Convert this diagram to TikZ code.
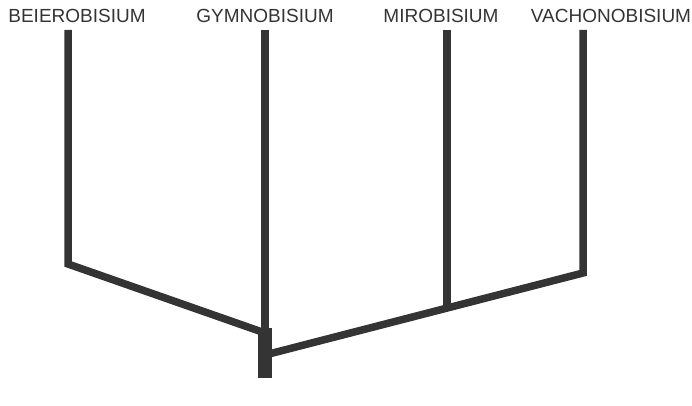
\documentclass[tikz,border=0pt]{standalone}
\usepackage{fontspec}
\setmainfont{Liberation Sans}
\usepackage{tikz}
\usetikzlibrary{positioning, calc}
\definecolor{mydark}{RGB}{52,52,52}
\tikzset{
  taxon/.style={font=\fontsize{19}{21}\selectfont, text=mydark, inner sep=0pt, anchor=center},
  branch/.style={line width=7.5pt, color=mydark, line cap=butt, line join=miter},
  trunk/.style={line width=14pt, color=mydark, line cap=butt}
}

\begin{document}
\begin{tikzpicture}[x=1pt, y=-1pt]
  \useasboundingbox (0,0) rectangle (692,406);

  % Genus names
  \node[taxon] (beier) at (77,16) {BEIEROBISIUM};
  \node[taxon] (gymno) at (265,16) {GYMNOBISIUM};
  \node[taxon] (miro) at (441,16) {MIROBISIUM};
  \node[taxon] (vachon) at (611,16) {VACHONOBISIUM};

  % Tips and forks
  \coordinate (tipB) at (68,30);
  \coordinate (tipG) at (265,30);
  \coordinate (tipM) at (447,30);
  \coordinate (tipV) at (583,30);
  \coordinate (cornB) at (68,264);
  \coordinate (cornV) at (583,273);
  \coordinate (forkL) at (265,333);
  \coordinate (forkR) at (265,355);
  \coordinate (forkM) at (447,307);
  \coordinate (root) at (265,378);

  % Left clade
  \draw[branch] (tipB) -- (cornB) -- (forkL);

  % Gymnobisium and stem
  \draw[branch] (tipG) -- (forkL);
  \draw[trunk] ($(forkL)+(0,-5)$) -- (root);

  % Right clade
  \draw[branch] (forkR) -- (cornV) -- (tipV);
  \draw[branch] (tipM) -- (forkM);
\end{tikzpicture}
\end{document}
